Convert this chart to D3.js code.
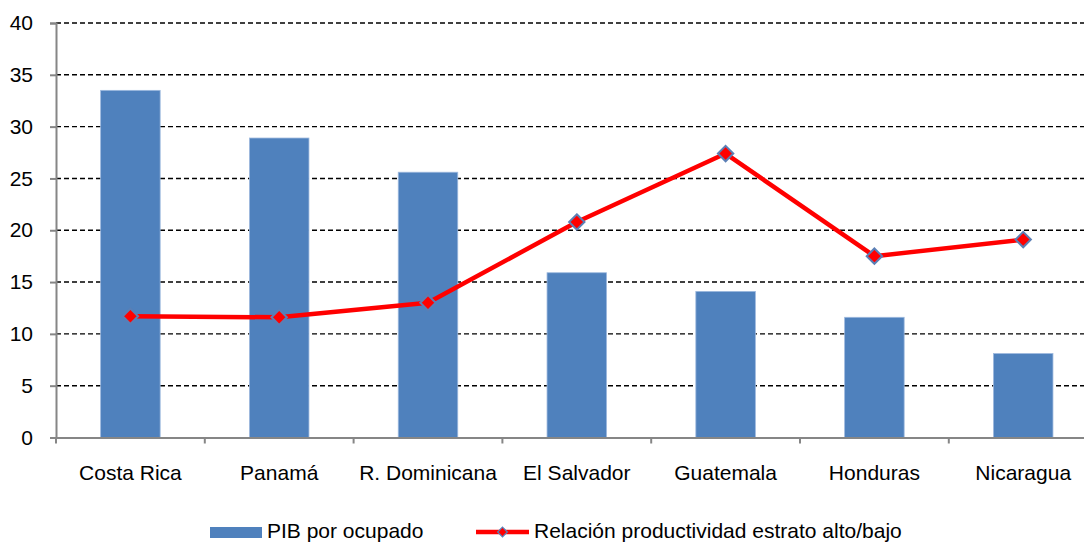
<!DOCTYPE html>
<html>
<head>
<meta charset="utf-8">
<script src="https://cdn.jsdelivr.net/npm/d3@7"></script>
<style>
  body { margin: 0; background: #fff; }
  svg { font-family: 'Liberation Sans', Arial, sans-serif; }
</style>
</head>
<body>
<div id="chart"></div>
<script>
const countries = ['Costa Rica', 'Panamá', 'R. Dominicana', 'El Salvador', 'Guatemala', 'Honduras', 'Nicaragua']
const pibOcupado = [33.5, 28.9, 25.6, 15.9, 14.1, 11.6, 8.1]
const relacion = [11.7, 11.6, 13.0, 20.8, 27.4, 17.5, 19.1]
const yTicks = [0, 5, 10, 15, 20, 25, 30, 35, 40]

const width = 1084, height = 543
const margin = { top: 23, left: 56 }
const plotW = 148.8 * countries.length
const plotH = 437.5 - margin.top
const fontSize = 21

const svg = d3.select('#chart').append('svg')
  .attr('width', width).attr('height', height)

const g = svg.append('g').attr('transform', `translate(${margin.left},${margin.top})`)

const x = d3.scaleBand().domain(countries).range([0, plotW])
const y = d3.scaleLinear().domain([0, 40]).range([plotH, 0])

// dashed gridlines
g.selectAll('.grid').data(yTicks.filter((d) => d > 0)).enter()
  .append('line')
  .attr('x1', 0).attr('x2', plotW)
  .attr('y1', (d) => y(d)).attr('y2', (d) => y(d))
  .attr('stroke', '#000').attr('stroke-width', 1.4)
  .attr('stroke-dasharray', '5,3')

// bars
const barW = x.bandwidth() * 0.4
g.selectAll('.bar').data(countries).enter()
  .append('rect')
  .attr('x', (d) => x(d) + (x.bandwidth() - barW) / 2)
  .attr('y', (d, i) => y(pibOcupado[i]))
  .attr('width', barW)
  .attr('height', (d, i) => plotH - y(pibOcupado[i]))
  .attr('fill', '#4F81BD')
  .attr('stroke', '#9db9de').attr('stroke-width', 0.8)

// y axis
const yAxis = g.append('g').call(d3.axisLeft(y).tickValues(yTicks).tickSize(6).tickPadding(17))
yAxis.select('.domain').attr('stroke', '#868686').attr('stroke-width', 2)
yAxis.selectAll('.tick line').attr('stroke', '#868686').attr('stroke-width', 2)
yAxis.selectAll('text').attr('font-size', fontSize).attr('fill', '#000')
  .attr('font-family', "'Liberation Sans', Arial, sans-serif")

// x axis
const xAxis = g.append('g').attr('transform', `translate(0,${plotH})`)
  .call(d3.axisBottom(x).tickSize(0).tickSizeOuter(0))
xAxis.select('.domain').attr('stroke', '#868686').attr('stroke-width', 2)
xAxis.selectAll('text').attr('font-size', fontSize).attr('fill', '#000')
  .attr('y', 42.5).attr('dy', 0)
  .attr('font-family', "'Liberation Sans', Arial, sans-serif")
// category boundary ticks
g.selectAll('.xtick').data(d3.range(countries.length + 1)).enter()
  .append('line')
  .attr('x1', (i) => i * x.step()).attr('x2', (i) => i * x.step())
  .attr('y1', plotH).attr('y2', plotH + 6)
  .attr('stroke', '#868686').attr('stroke-width', 2)

// line series
const line = d3.line()
  .x((d, i) => x(countries[i]) + x.bandwidth() / 2)
  .y((d) => y(d))
g.append('path').datum(relacion)
  .attr('d', line)
  .attr('fill', 'none').attr('stroke', '#FF0000').attr('stroke-width', 4.5)
  .attr('stroke-linejoin', 'round')

const diamond = d3.symbol().type(d3.symbolDiamond2).size(150)
g.selectAll('.marker').data(relacion).enter()
  .append('path')
  .attr('d', diamond)
  .attr('transform', (d, i) => `translate(${x(countries[i]) + x.bandwidth() / 2},${y(d)})`)
  .attr('fill', '#FF0000').attr('stroke', '#5B7FB5').attr('stroke-width', 2)

// legend
const leg = svg.append('g').attr('font-size', fontSize)
leg.append('rect').attr('x', 210).attr('y', 527).attr('width', 52).attr('height', 11).attr('fill', '#4F81BD')
leg.append('text').attr('x', 267).attr('y', 538).text('PIB por ocupado')
leg.append('line').attr('x1', 476).attr('x2', 529).attr('y1', 532).attr('y2', 532)
  .attr('stroke', '#FF0000').attr('stroke-width', 4.5)
leg.append('path').attr('d', d3.symbol().type(d3.symbolDiamond2).size(60))
  .attr('transform', 'translate(502.5,532)')
  .attr('fill', '#FF0000').attr('stroke', '#5B7FB5').attr('stroke-width', 1.3)
leg.append('text').attr('x', 534).attr('y', 538).text('Relación productividad estrato alto/bajo')
</script>
</body>
</html>
